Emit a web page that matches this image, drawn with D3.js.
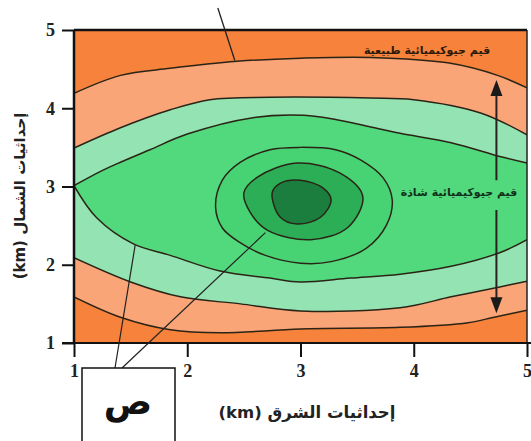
<!DOCTYPE html>
<html><head><meta charset="utf-8">
<script src="https://cdn.jsdelivr.net/npm/d3@7"></script>
<style>body{margin:0;background:#fff;} svg{display:block}</style>
</head><body>
<svg id="chart" width="531" height="441"></svg>
<script>
// ---- data (km coordinates) ----
const xTicks = [1, 2, 3, 4, 5];
const yTicks = [1, 2, 3, 4, 5];
const xTitle = "إحداثيات الشرق (km)";
const yTitle = "إحداثيات الشمال (km)";
const labelNormal = "قيم جيوكيميائية طبيعية";
const labelAnomalous = "قيم جيوكيميائية شاذة";
const boxLabel = "ص";

const c1Upper = [[1.00,4.19],[1.41,4.42],[1.85,4.51],[2.44,4.60],[3.00,4.64],[3.62,4.65],[4.30,4.58],[4.74,4.42],[5.00,4.26]];
const c1Lower = [[1.00,1.59],[1.41,1.33],[1.85,1.17],[2.29,1.13],[3.00,1.18],[3.88,1.20],[4.48,1.26],[4.71,1.33],[5.00,1.42]];
const c2Upper = [[1.00,3.49],[1.41,3.75],[1.85,3.98],[2.20,4.11],[2.73,4.14],[3.62,4.13],[4.00,4.11],[4.59,3.94],[5.00,3.66]];
const c2Lower = [[1.00,2.09],[1.50,1.78],[1.94,1.59],[2.47,1.50],[3.00,1.41],[3.88,1.45],[4.33,1.59],[4.77,1.72],[5.00,1.79]];
const c3Upper = [[1.00,3.01],[1.23,3.19],[1.41,3.31],[1.67,3.47],[2.00,3.67],[2.58,3.88],[3.03,3.91],[3.33,3.85],[3.62,3.76],[3.88,3.68],[4.33,3.56],[4.77,3.38],[5.00,3.30]];
const c3Lower = [[1.00,3.01],[1.20,2.60],[1.52,2.27],[1.85,2.12],[2.29,1.92],[2.73,1.83],[3.00,1.78],[3.44,1.83],[3.88,1.88],[4.33,1.98],[4.77,2.16],[5.00,2.32]];
const c4Ring = [[2.25,2.74],[2.31,3.08],[2.47,3.31],[2.73,3.47],[3.00,3.50],[3.31,3.47],[3.53,3.34],[3.73,3.11],[3.81,2.83],[3.76,2.51],[3.58,2.21],[3.27,2.04],[3.00,2.02],[2.69,2.12],[2.47,2.28],[2.31,2.47]];
const c5Ring = [[2.50,2.92],[2.62,3.12],[2.97,3.30],[3.35,3.17],[3.55,2.87],[3.42,2.48],[3.09,2.32],[2.71,2.44],[2.56,2.66]];
const c6Ring = [[2.75,2.92],[2.82,3.04],[3.00,3.08],[3.20,2.98],[3.27,2.83],[3.18,2.61],[2.97,2.52],[2.82,2.61]];

// ---- styles ----
const palette = ["#f6823c", "#f9a578", "#93e3b3", "#52d97d", "#47d373", "#2cae57", "#1b7e3e"];
const stroke = "#2b2416";

const svg = d3.select("#chart");
const x = d3.scaleLinear().domain([1, 5]).range([74, 527]);
const y = d3.scaleLinear().domain([1, 5]).range([343, 30]);

const line = d3.line().x(d => x(d[0])).y(d => y(d[1])).curve(d3.curveCatmullRom.alpha(0.5));
const closed = d3.line().x(d => x(d[0])).y(d => y(d[1])).curve(d3.curveCatmullRomClosed.alpha(0.5));
function band(u, l) { return line(u) + "L" + line(l.slice().reverse()).slice(1) + "Z"; }

svg.append("clipPath").attr("id", "clip").append("rect")
  .attr("x", x(1)).attr("y", y(5)).attr("width", x(5) - x(1)).attr("height", y(1) - y(5));

const plot = svg.append("g").attr("clip-path", "url(#clip)");
plot.append("rect").attr("x", x(1)).attr("y", y(5)).attr("width", x(5) - x(1)).attr("height", y(1) - y(5)).attr("fill", palette[0]);
plot.append("path").attr("d", band(c1Upper, c1Lower)).attr("fill", palette[1]);
plot.append("path").attr("d", band(c2Upper, c2Lower)).attr("fill", palette[2]);
plot.append("path").attr("d", band(c3Upper, c3Lower)).attr("fill", palette[3]);
plot.append("path").attr("d", closed(c4Ring)).attr("fill", palette[4]);
plot.append("path").attr("d", closed(c5Ring)).attr("fill", palette[5]);
plot.append("path").attr("d", closed(c6Ring)).attr("fill", palette[6]);

[c1Upper, c1Lower, c2Upper, c2Lower, c3Upper, c3Lower].forEach(c => {
  plot.append("path").attr("d", line(c)).attr("fill", "none").attr("stroke", stroke).attr("stroke-width", 1.5);
});
[c4Ring, c5Ring, c6Ring].forEach(c => {
  plot.append("path").attr("d", closed(c)).attr("fill", "none").attr("stroke", stroke).attr("stroke-width", 1.5);
});

// ---- frame ----
svg.append("line").attr("x1", x(1)).attr("x2", x(5)).attr("y1", y(5)).attr("y2", y(5)).attr("stroke", "#111").attr("stroke-width", 2.5);
svg.append("line").attr("x1", x(5)).attr("x2", x(5)).attr("y1", y(5)).attr("y2", y(1)).attr("stroke", "#222").attr("stroke-width", 1.5);
svg.append("line").attr("x1", x(1)).attr("x2", x(1)).attr("y1", y(5)).attr("y2", y(1)).attr("stroke", "#111").attr("stroke-width", 2.5);
svg.append("line").attr("x1", 62).attr("x2", 531).attr("y1", y(1)).attr("y2", y(1)).attr("stroke", "#111").attr("stroke-width", 2);

// ---- axes ----
const yAxis = svg.append("g").attr("transform", `translate(${x(1)},0)`)
  .call(d3.axisLeft(y).tickValues(yTicks).tickFormat(d3.format("d")).tickSize(12).tickPadding(7));
const xAxis = svg.append("g").attr("transform", `translate(0,${y(1)})`)
  .call(d3.axisBottom(x).tickValues(xTicks).tickFormat(d3.format("d")).tickSize(14).tickPadding(7));
[xAxis, yAxis].forEach(a => {
  a.attr("font-family", null);
  a.select(".domain").remove();
  a.selectAll(".tick line").attr("stroke", "#111").attr("stroke-width", 2);
  a.selectAll(".tick text").attr("fill", "#222").style("font-family", "'Liberation Serif', 'DejaVu Serif', serif")
    .style("font-weight", "bold").style("font-size", "18px");
});

// ---- titles ----
svg.append("text").attr("x", 307).attr("y", 418).attr("text-anchor", "middle").attr("direction", "rtl")
  .style("font-family", "'DejaVu Sans', sans-serif").style("font-weight", "bold").style("font-size", "16.5px")
  .attr("fill", "#222").text(xTitle);
svg.append("text").attr("transform", "translate(25,196) rotate(-90)").attr("text-anchor", "middle").attr("direction", "rtl")
  .style("font-family", "'DejaVu Sans', sans-serif").style("font-weight", "bold").style("font-size", "15px")
  .attr("fill", "#222").text(yTitle);

// ---- annotations ----
svg.append("text").attr("x", 427).attr("y", 54).attr("text-anchor", "middle").attr("direction", "rtl")
  .style("font-family", "'DejaVu Sans', sans-serif").style("font-weight", "bold").style("font-size", "11px")
  .attr("fill", "#2a1a0a").text(labelNormal);
svg.append("text").attr("x", 459).attr("y", 196).attr("text-anchor", "middle").attr("direction", "rtl")
  .style("font-family", "'DejaVu Sans', sans-serif").style("font-weight", "bold").style("font-size", "11px")
  .attr("fill", "#10301a").text(labelAnomalous);

// pointer at top
svg.append("line").attr("x1", x(2.27)).attr("y1", 8).attr("x2", x(2.42)).attr("y2", y(4.61))
  .attr("stroke", "#222").attr("stroke-width", 1.3);

// double arrow
const ax = x(4.73);
const aTop = y(4.36), aBot = y(1.38);
svg.append("line").attr("x1", ax).attr("x2", ax).attr("y1", aTop + 12).attr("y2", y(3.08)).attr("stroke", "#2a2020").attr("stroke-width", 2);
svg.append("line").attr("x1", ax).attr("x2", ax).attr("y1", y(2.70)).attr("y2", aBot - 12).attr("stroke", "#2a2020").attr("stroke-width", 2);
svg.append("path").attr("d", `M${ax},${aTop}L${ax - 6},${aTop + 16}L${ax + 6},${aTop + 16}Z`).attr("fill", "#1a1a1a");
svg.append("path").attr("d", `M${ax},${aBot}L${ax - 6},${aBot - 16}L${ax + 6},${aBot - 16}Z`).attr("fill", "#1a1a1a");

// box label with pointers
svg.append("line").attr("x1", 115).attr("y1", 368).attr("x2", x(1.54)).attr("y2", y(2.25)).attr("stroke", "#222").attr("stroke-width", 1.2);
svg.append("line").attr("x1", 122).attr("y1", 368).attr("x2", x(2.69)).attr("y2", y(2.41)).attr("stroke", "#222").attr("stroke-width", 1.2);
svg.append("rect").attr("x", 82).attr("y", 368).attr("width", 93).attr("height", 90)
  .attr("fill", "#fff").attr("stroke", "#111").attr("stroke-width", 1.5);
svg.append("text").attr("x", 128).attr("y", 414).attr("text-anchor", "middle")
  .style("font-family", "'DejaVu Sans', sans-serif").style("font-weight", "bold").style("font-size", "36px")
  .attr("fill", "#111").text(boxLabel);
</script>
</body></html>
